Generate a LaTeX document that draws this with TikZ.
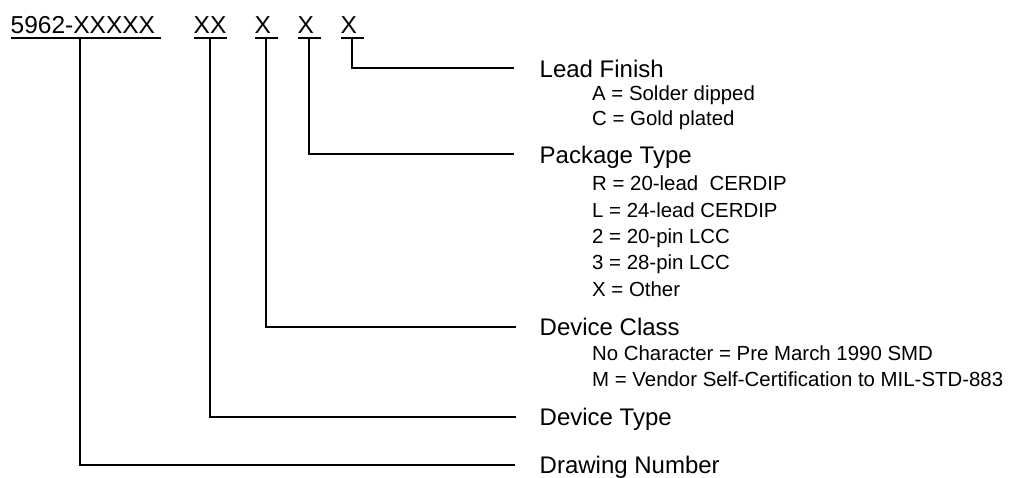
\documentclass[tikz,border=0pt]{standalone}
\usepackage{fontspec}
\setmainfont{Liberation Sans}
\begin{document}
\begin{tikzpicture}[x=1pt,y=-1pt,
  conn/.style={line width=1.3pt,line cap=rect},
  uline/.style={line width=1.3pt},
  code/.style={font=\fontsize{24.5}{28}\selectfont,inner sep=0pt,anchor=base west},
  lab/.style={font=\fontsize{24}{28}\selectfont,inner sep=0pt,anchor=base west},
  sub/.style={font=\fontsize{20.4}{24}\selectfont,inner sep=0pt,anchor=base west}]
\useasboundingbox (0,0) rectangle (1026,477);
% top code groups
\node[code] (g1) at (10.5,33) {5962-XXXXX};
\node[code] (g2) at (193.5,33) {XX};
\node[code] (g3) at (254.5,33) {X};
\node[code] (g4) at (297.5,33) {X};
\node[code] (g5) at (340.5,33) {X};
% underlines
\draw[uline] (11,38) -- (161,38);
\draw[uline] (194,38) -- (227,38);
\draw[uline] (255,38) -- (278,38);
\draw[uline] (298,38) -- (321,38);
\draw[uline] (341,38) -- (364,38);
% labels
\node[lab] (lf) at (539.5,77) {Lead Finish};
\node[sub] (lfa) at (592,100) {A = Solder dipped};
\node[sub] (lfc) at (592,125) {C = Gold plated};
\node[lab] (pt) at (539.5,163) {Package Type};
\node[sub] (ptr) at (592,190) {R = 20-lead\ \ CERDIP};
\node[sub] (ptl) at (592,217) {L = 24-lead CERDIP};
\node[sub] (pt2) at (592,243.5) {2 = 20-pin LCC};
\node[sub] (pt3) at (592,269.5) {3 = 28-pin LCC};
\node[sub] (ptx) at (592,296) {X = Other};
\node[lab] (dc) at (539.5,335.5) {Device Class};
\node[sub] (dcn) at (592,360) {No Character = Pre March 1990 SMD};
\node[sub] (dcm) at (592,386.5) {M = Vendor Self-Certification to MIL-STD-883};
\node[lab] (dt) at (539.5,425) {Device Type};
\node[lab] (dn) at (539.5,473) {Drawing Number};
% connector points
\coordinate (s1) at (80,38);  \coordinate (e1) at (514,465);
\coordinate (s2) at (210,38); \coordinate (e2) at (515,417);
\coordinate (s3) at (266,38); \coordinate (e3) at (515,327);
\coordinate (s4) at (309,38); \coordinate (e4) at (513,154);
\coordinate (s5) at (352,38); \coordinate (e5) at (513,68);
\draw[conn] (s1) |- (e1);
\draw[conn] (s2) |- (e2);
\draw[conn] (s3) |- (e3);
\draw[conn] (s4) |- (e4);
\draw[conn] (s5) |- (e5);
\end{tikzpicture}
\end{document}
